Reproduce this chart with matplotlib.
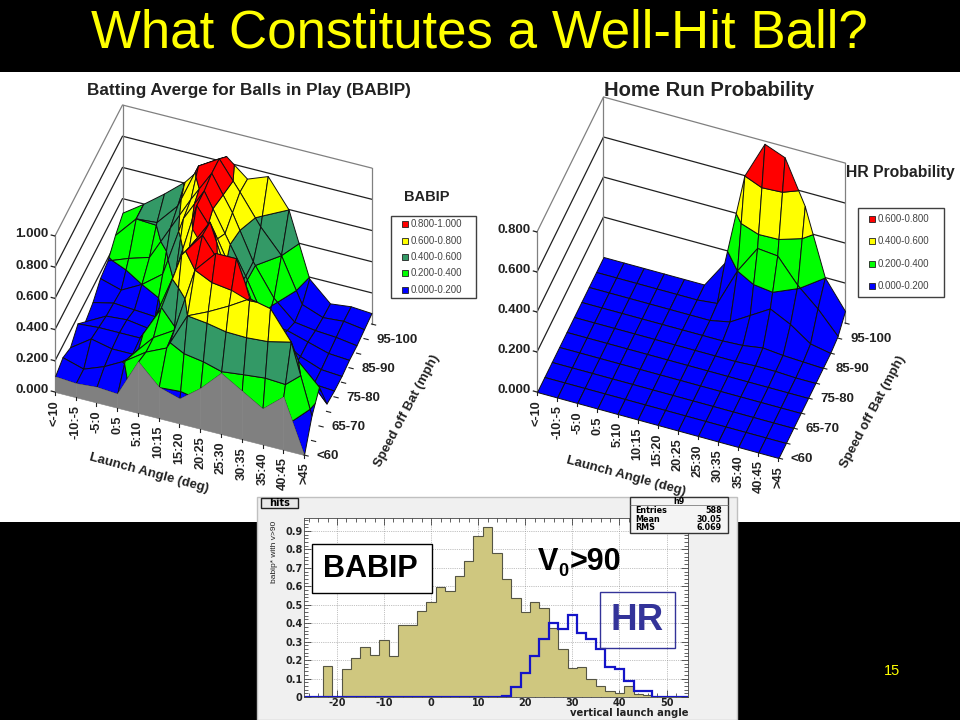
import math
import matplotlib
matplotlib.use('Agg')
import matplotlib.pyplot as plt
from matplotlib.patches import Rectangle
from mpl_toolkits.mplot3d import proj3d
from mpl_toolkits.mplot3d.art3d import Poly3DCollection

plt.rcParams['font.family'] = ['Liberation Sans', 'DejaVu Sans']
plt.rcParams['axes.unicode_minus'] = False

angle_labels = ['<-10', '-10:-5', '-5:0', '0:5', '5:10', '10:15', '15:20', '20:25',
                '25:30', '30:35', '35:40', '40:45', '>45']
speed_labels = ['<60', '65-70', '75-80', '85-90', '95-100']
speed_label_rows = [0, 2, 4, 6, 8]

# rows: speed bins (front to back), columns: launch angle bins
babip = [
    [.10, .09, .10, .09, .33, .20, .16, .26, .39, .31, .23, .34, .00],
    [.13, .09, .14, .21, .30, .36, .60, .66, .73, .81, .78, .60, .16],
    [.10, .19, .16, .16, .30, .38, .80, .94, .94, .60, .50, .38, .25],
    [.16, .17, .17, .17, .39, .77, .93, .75, .35, .35, .30, .20, .05],
    [.08, .15, .16, .14, .30, .72, .92, .55, .25, .20, .12, .05, .04],
    [.11, .14, .13, .12, .45, .90, .72, .45, .20, .18, .10, .05, .04],
    [.17, .13, .20, .30, .69, .90, .66, .42, .15, .14, .10, .06, .05],
    [.19, .24, .28, .50, .72, .92, .70, .42, .22, .10, .08, .07, .05],
    [.26, .40, .41, .55, .84, .92, .74, .55, .40, .12, .07, .08, .06],
    [.31, .40, .50, .61, .76, .84, .73, .78, .60, .19, .065, .08, .07],
]
hr_prob = [
    [0, 0, 0, 0, 0, 0, 0, 0, 0, 0, 0, 0, 0],
    [0, 0, 0, 0, 0, 0, 0, 0, 0, 0, 0, 0, 0],
    [0, 0, 0, 0, 0, 0, 0, 0, 0, 0, 0, 0, 0],
    [0, 0, 0, 0, 0, 0, 0, 0, 0, 0, 0, 0, 0],
    [0, 0, 0, 0, 0, 0, 0, 0, 0, 0, 0, 0, 0],
    [0, 0, 0, 0, 0, 0, 0, 0, 0, .005, .005, 0, 0],
    [0, 0, 0, 0, 0, 0, 0, 0, .005, .02, .01, .005, 0],
    [0, 0, 0, 0, 0, 0, 0, .02, .08, .14, .09, .02, 0],
    [0, 0, 0, 0, 0, 0, .01, .20, .34, .33, .21, .12, .01],
    [0, 0, 0, 0, 0, 0, .135, .60, .786, .746, .53, .20, .06],
]

BLUE, GREEN, DKGREEN, YELLOW, RED = '#0000ff', '#00ff00', '#339966', '#ffff00', '#ff0000'
babip_bands = [(0, .2, BLUE), (.2, .4, GREEN), (.4, .6, DKGREEN), (.6, .8, YELLOW), (.8, 1.0, RED)]
hr_bands = [(0, .2, BLUE), (.2, .4, GREEN), (.4, .6, YELLOW), (.6, .8, RED)]
babip_legend = ['0.800-1.000', '0.600-0.800', '0.400-0.600', '0.200-0.400', '0.000-0.200']
hr_legend = ['0.600-0.800', '0.400-0.600', '0.200-0.400', '0.000-0.200']

bin_edges = list(range(-27, 57, 2))
babip_hist = [0, 0, .167, 0, .15, .21, .27, .225, .31, .22, .39, .39, .465, .515, .595, .575,
              .655, .735, .875, .92, .78, .64, .535, .46, .515, .48, .375, .26, .155, .16,
              .10, .06, .03, .02, .06, .015, .01, 0, 0, 0, 0]
hr_hist = [0] * 21 + [.005, .055, .13, .22, .315, .40, .37, .445, .345, .315, .26, .165, .15,
                      .085, .035, .03, 0, 0, 0, 0]
hr_hist = hr_hist[:len(bin_edges) - 1]

fig = plt.figure(figsize=(9.6, 7.2), dpi=100, facecolor='black')


def canvas(zorder):
    a = fig.add_axes([0, 0, 1, 1], zorder=zorder)
    a.set_xlim(0, 960)
    a.set_ylim(720, 0)
    a.axis('off')
    a.patch.set_alpha(0)
    return a


def project(ax, p):
    x, y, _ = proj3d.proj_transform(p[0], p[1], p[2], ax.get_proj())
    return ax.transData.transform((x, y))


def clip(poly, level, keep_above):
    out = []
    for k in range(len(poly)):
        a, b = poly[k], poly[(k + 1) % len(poly)]
        in_a = a[2] >= level if keep_above else a[2] <= level
        in_b = b[2] >= level if keep_above else b[2] <= level
        if in_a:
            out.append(a)
        if in_a != in_b:
            t = (level - a[2]) / (b[2] - a[2])
            out.append((a[0] + t * (b[0] - a[0]), a[1] + t * (b[1] - a[1]), level))
    return out


def surface(origin, x_end, y_end, z_end, z_max, z_steps, heights, bands, z_fmt, gray_front):
    # the source chart is a parallel projection, so work out elev/azim/box from the corners
    xr, xd = x_end[0] - origin[0], x_end[1] - origin[1]
    yr, yu = y_end[0] - origin[0], origin[1] - y_end[1]
    zu = origin[1] - z_end[1]
    tan_a = math.sqrt(xd / xr * yr / yu)
    a = math.atan(tan_a)
    sin_e = xd / xr / tan_a
    e = math.asin(sin_e)

    ax = fig.add_axes([.2, .2, .4, .4], projection='3d', zorder=1, computed_zorder=False)
    ax.set_proj_type('ortho')
    ax.view_init(elev=math.degrees(e), azim=-90 + math.degrees(a))
    nx, ny = len(heights[0]) - 1, len(heights) - 1
    ax.set_xlim(0, nx, view_margin=0)
    ax.set_ylim(0, ny, view_margin=0)
    ax.set_zlim(0, z_max, view_margin=0)
    ax.set_box_aspect((xr / math.cos(a), yr / math.sin(a), zu / math.cos(e)))
    ax.set_axis_off()
    ax.patch.set_alpha(0)

    # scale and move the axes box until the floor corners land where they should
    side = 400.0
    ax.set_position([200 / 960, 200 / 720, side / 960, side / 720])
    ax.apply_aspect()
    p0, p1 = project(ax, (0, 0, 0)), project(ax, (nx, 0, 0))
    side *= xr / (p1[0] - p0[0])
    ax.set_position([200 / 960, 200 / 720, side / 960, side / 720])
    ax.apply_aspect()
    p0 = project(ax, (0, 0, 0))
    left = 200 + origin[0] - p0[0]
    bottom = 200 + (720 - origin[1]) - p0[1]
    ax.set_position([left / 960, bottom / 720, side / 960, side / 720])
    ax.apply_aspect()

    # walls
    z_levels = [z_steps * k for k in range(1, round(z_max / z_steps) + 1)]
    for z in z_levels:
        col = '#808080' if z == z_levels[-1] else '#202020'
        ax.plot([0, 0, nx], [0, ny, ny], [z, z, z], color=col, lw=.9, zorder=1)
        ax.plot([-.18, 0], [0, 0], [z, z], color='#202020', lw=.9, zorder=1)
    for x, y in [(0, ny), (nx, ny), (0, 0)]:
        ax.plot([x, x], [y, y], [0, z_max], color='#808080', lw=.9, zorder=1)
    ax.plot([-.18, 0], [0, 0], [0, 0], color='#202020', lw=.9, zorder=1)

    # surface cells, painted back to front
    order = 10
    for j in range(ny - 1, -1, -1):
        for i in range(nx):
            quad = [(i, j, heights[j][i]), (i + 1, j, heights[j][i + 1]),
                    (i + 1, j + 1, heights[j + 1][i + 1]), (i, j + 1, heights[j + 1][i])]
            for lo, hi, col in bands:
                poly = clip(clip(quad, lo, True), hi, False)
                if len(poly) < 3:
                    continue
                pc = Poly3DCollection([poly], facecolors=col, edgecolors='#101010', linewidths=.7)
                pc.set_zorder(order)
                ax.add_collection3d(pc, autolim=False)
                order += 1
    if gray_front:
        for i in range(nx):
            wall = [(i, 0, 0), (i + 1, 0, 0), (i + 1, 0, heights[0][i + 1]), (i, 0, heights[0][i])]
            pc = Poly3DCollection([wall], facecolors='#808080', edgecolors='#808080', linewidths=.4)
            pc.set_zorder(order)
            ax.add_collection3d(pc, autolim=False)
            order += 1

    # ticks and labels on the floor
    for i, lab in enumerate(angle_labels):
        ax.plot([i, i], [0, 0], [0, -.02 * z_max], color='#202020', lw=.8, zorder=order)
        ax.text(i, 0, -.05 * z_max, lab, zdir='z', ha='center', va='top', fontsize=9.2,
                fontweight='bold', color='#222222', zorder=order)
    for j in range(ny + 1):
        ax.plot([nx, nx + .2], [j, j], [0, 0], color='#202020', lw=.8, zorder=order)
    for j, lab in zip(speed_label_rows, speed_labels):
        ax.text(nx + .62, j, .012 * z_max, lab, ha='left', va='center', fontsize=9.5,
                fontweight='bold', color='#222222', zorder=order)
    ax.text(-.3, 0, 0, z_fmt % 0, ha='right', va='center', fontsize=9.5, fontweight='bold',
            color='#222222', zorder=order)
    for z in z_levels:
        ax.text(-.3, 0, z, z_fmt % z, ha='right', va='center', fontsize=9.5, fontweight='bold',
                color='#222222', zorder=order)
    return ax


surface((55, 392), (304, 455), (122.5, 261), (55, 236), 1.0, .2, babip, babip_bands, '%.3f', True)
surface((537, 392), (778.5, 458), (603.5, 257), (537, 232), .8, .2, hr_prob, hr_bands, '%.3f', False)

# slide background and everything that sits in plain pixels
bg = canvas(0)
bg.add_patch(Rectangle((0, 72), 960, 450, color='white', lw=0))
bg.text(479, 33, 'What Constitutes a Well-Hit Ball?', color='#ffff00', fontsize=38.1,
        ha='center', va='center')
bg.text(249, 91, 'Batting Averge for Balls in Play (BABIP)', fontsize=12.3, fontweight='bold',
        ha='center', va='center', color='#222222')
bg.text(709, 90, 'Home Run Probability', fontsize=14.5, fontweight='bold', ha='center',
        va='center', color='#222222')
bg.text(427, 197, 'BABIP', fontsize=10.5, fontweight='bold', ha='center', va='center', color='#222222')
bg.text(900, 172, 'HR Probability', fontsize=11.3, fontweight='bold', ha='center', va='center', color='#222222')
bg.text(149, 473, 'Launch Angle (deg)', fontsize=9.5, fontweight='bold', rotation=-15,
        ha='center', va='center', color='#222222')
bg.text(626, 476, 'Launch Angle (deg)', fontsize=9.5, fontweight='bold', rotation=-15,
        ha='center', va='center', color='#222222')
bg.text(407, 411, 'Speed off Bat (mph)', fontsize=9.5, fontweight='bold', rotation=62,
        ha='center', va='center', color='#222222')
bg.text(873, 412, 'Speed off Bat (mph)', fontsize=9.5, fontweight='bold', rotation=62,
        ha='center', va='center', color='#222222')


def legend(x0, y0, x1, y1, labels, bands):
    bg.add_patch(Rectangle((x0, y0), x1 - x0, y1 - y0, fc='white', ec='#404040', lw=1))
    step = (y1 - y0) / len(labels)
    for k, (lab, band) in enumerate(zip(labels, bands[::-1])):
        y = y0 + step * (k + .5)
        bg.add_patch(Rectangle((x0 + 11, y - 3), 6, 6, fc=band[2], ec='#202020', lw=.6))
        bg.text(x0 + 20, y, lab, fontsize=7, va='center', color='#444444')


legend(391, 216, 476, 298, babip_legend, babip_bands)
legend(858, 208, 944, 297, hr_legend, hr_bands)
bg.text(892, 671, '15', color='#ffff00', fontsize=10.5, ha='center', va='center')

# histogram panel
panel = canvas(2)
panel.add_patch(Rectangle((257, 497), 480, 223, fc='#f0f0f0', ec='#c0c0c0', lw=1))

hist = fig.add_axes([304 / 960, 1 - 697 / 720, (687.7 - 304) / 960, (697 - 518) / 720], zorder=3)
hist.stairs(babip_hist, bin_edges, fill=True, color='#cfc77f')
hist.stairs(babip_hist, bin_edges, color='#555544', lw=.8)
hist.stairs(hr_hist, bin_edges, color='#1414c8', lw=1.6)
hist.set_xlim(-27, 54.5)
hist.set_ylim(0, .97)
hist.set_xticks(range(-20, 51, 10))
hist.set_yticks([k / 10 for k in range(1, 10)] + [0])
hist.set_yticklabels(['0.%d' % k for k in range(1, 10)] + ['0'])
hist.set_xticks(range(-26, 54, 2), minor=True)
hist.set_yticks([k / 50 for k in range(0, 49)], minor=True)
hist.tick_params(which='both', direction='in', top=True, right=True, length=3, width=.5,
                 labelsize=7, pad=1, colors='#222222')
hist.tick_params(which='major', length=5)
for lab in hist.get_xticklabels() + hist.get_yticklabels():
    lab.set_fontweight('bold')
    lab.set_family('DejaVu Sans')
hist.grid(True, which='major', ls=':', lw=.5, color='#888888')
hist.set_axisbelow(True)
for s in hist.spines.values():
    s.set_linewidth(.6)
    s.set_color('#444444')

over = canvas(4)
over.text(688, 713, 'vertical launch angle', fontsize=7.2, fontweight='bold', family='DejaVu Sans',
          ha='right', va='center', color='#222222')
over.text(274, 552, 'babip* with v>90', fontsize=6, rotation=90, ha='center', va='center', color='#222222')
over.add_patch(Rectangle((261, 498), 37, 10, fc='#e8e8e8', ec='#222222', lw=1))
over.text(279.5, 503, 'hits', fontsize=7, fontweight='bold', family='DejaVu Sans', ha='center', va='center')
over.add_patch(Rectangle((630, 497), 98, 36, fc='#f4f4f4', ec='#333333', lw=1))
over.plot([630, 728], [505, 505], color='#666666', lw=.5)
over.text(679, 501, 'h9', fontsize=5.8, fontweight='bold', family='DejaVu Sans', ha='center', va='center')
stats = [('Entries', '588'), ('Mean', '30.05'), ('RMS', '6.069')]
for k, (name, val) in enumerate(stats):
    y = 510.5 + k * 8.7
    over.text(635, y, name, fontsize=5.8, fontweight='bold', family='DejaVu Sans', va='center')
    over.text(722, y, val, fontsize=5.8, fontweight='bold', family='DejaVu Sans', ha='right', va='center')
over.add_patch(Rectangle((312, 544), 120, 49, fc='white', ec='black', lw=1))
over.text(370, 569, 'BABIP', fontsize=22, fontweight='bold', ha='center', va='center', color='black')
over.text(538, 562, 'V', fontsize=22, fontweight='bold', va='center', color='black')
over.text(558, 571, '0', fontsize=13, fontweight='bold', va='center', color='black')
over.text(570, 562, '>90', fontsize=22, fontweight='bold', va='center', color='black')
over.add_patch(Rectangle((600, 592), 75, 56, fc='none', ec='#333399', lw=1))
over.text(637, 621, 'HR', fontsize=26.5, fontweight='bold', ha='center', va='center', color='#333399')

fig.savefig('out.png', dpi=100, facecolor='black')
